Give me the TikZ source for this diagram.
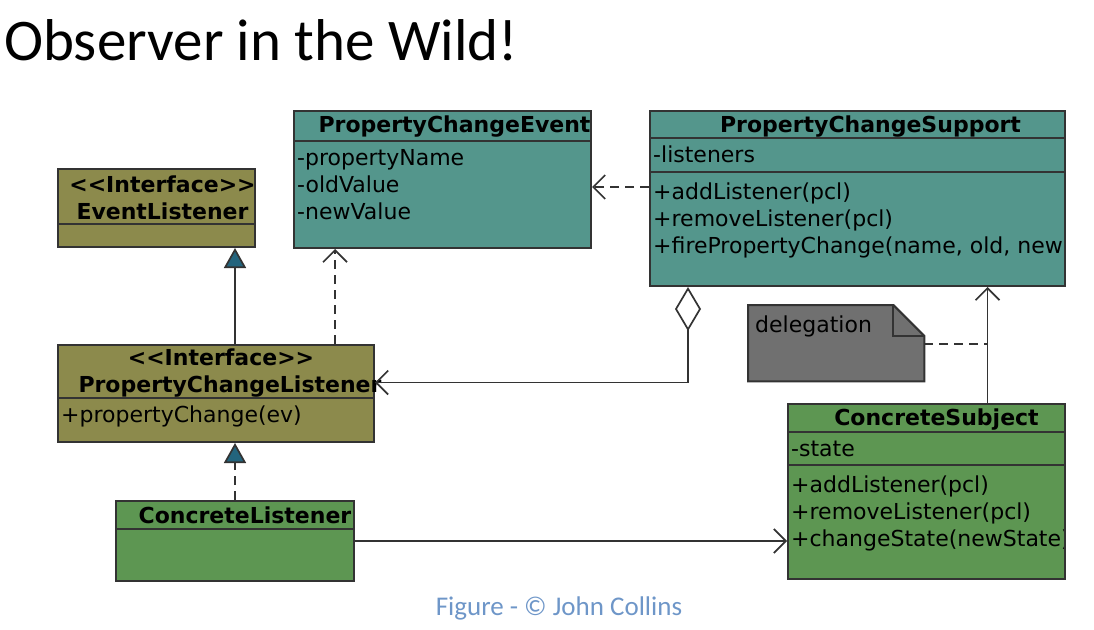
\documentclass[tikz,border=0pt]{standalone}
\usepackage{fontspec}
\setmainfont{DejaVu Sans}
\newfontfamily\slidefont{Carlito}
\usetikzlibrary{arrows.meta}
\usetikzlibrary{positioning}
\definecolor{umlolive}{RGB}{140,138,76}
\definecolor{umlteal}{RGB}{84,150,140}
\definecolor{umlgreen}{RGB}{93,150,82}
\definecolor{notegray}{RGB}{112,112,112}
\definecolor{tipblue}{RGB}{35,100,125}
\definecolor{capblue}{RGB}{110,150,200}
\tikzset{x=1pt, y=-1pt, node distance=1cm, font=\fontsize{22}{27}\selectfont}
\tikzstyle{cls} = [draw=black!80, line width=2pt, rectangle, anchor=north west, inner sep=0pt]
\tikzstyle{clsname} = [font=\bfseries\fontsize{22}{27}\selectfont, anchor=north, align=center, inner sep=0pt]
\tikzstyle{members} = [anchor=north west, align=left, inner xsep=4pt, inner ysep=8pt]
\tikzstyle{sep} = [black!80, line width=2pt]
\tikzstyle{assoc} = [draw=black!80, line width=1.7pt, -{Straight Barb[length=12pt,width=24pt]}]
\tikzstyle{dep} = [assoc, dash pattern=on 9pt off 6pt]
\tikzstyle{inh} = [draw=black!80, line width=1.7pt, -{Triangle[length=20pt,width=22pt,fill=tipblue]}]
\tikzstyle{agg} = [assoc, {Diamond[open,length=44pt,width=26pt]}-{Straight Barb[length=12pt,width=24pt]}]
\tikzstyle{note} = [draw=black!80, line width=2pt, fill=notegray]
\newcommand{\stereo}{<\kern0pt<Interface>\kern0pt>}

\begin{document}
\begin{tikzpicture}
    \useasboundingbox (0,0) rectangle (1094,629);
    \node [anchor=base west, inner sep=0pt, font=\slidefont\fontsize{59}{59}\selectfont] (heading) at (4,60) {Observer in the Wild!};

    % class boxes
    \node [cls, fill=umlolive, minimum width=197pt, minimum height=78pt] (el) at (57,168) {};
    \node [cls, fill=umlteal, minimum width=297pt, minimum height=137pt] (pce) at (293,110) {};
    \node [cls, fill=umlteal, minimum width=415pt, minimum height=175pt] (pcs) at (649,110) {};
    \node [cls, fill=umlolive, minimum width=316pt, minimum height=97pt] (pcl) at (57,344) {};
    \node [cls, fill=umlgreen, minimum width=238pt, minimum height=80pt] (cl) at (115,500) {};
    \node [cls, fill=umlgreen, minimum width=277pt, minimum height=175pt] (cs) at (787,403) {};

    % names
    \node [clsname] (elname) at ([xshift=6pt,yshift=-8pt]el.north) {\stereo\\EventListener};
    \node [clsname] (pcename) at ([xshift=12pt,yshift=-6pt]pce.north) {PropertyChangeEvent};
    \node [clsname] (pcsname) at ([xshift=13pt,yshift=-6pt]pcs.north) {PropertyChangeSupport};
    \node [clsname] (pclname) at ([xshift=14pt,yshift=-5pt]pcl.north) {\hspace*{-18pt}\stereo\\PropertyChangeListener};
    \node [clsname] (clname) at ([xshift=10pt,yshift=-7pt]cl.north) {ConcreteListener};
    \node [clsname] (csname) at ([xshift=10pt,yshift=-6pt]cs.north) {ConcreteSubject};

    % compartments
    \draw [sep] ([yshift=-56pt]el.north west) -- ([yshift=-56pt]el.north east);
    \draw [sep] ([yshift=-31pt]pce.north west) -- ([yshift=-31pt]pce.north east);
    \draw [sep] ([yshift=-28pt]pcs.north west) -- ([yshift=-28pt]pcs.north east);
    \draw [sep] ([yshift=-62pt]pcs.north west) -- ([yshift=-62pt]pcs.north east);
    \draw [sep] ([yshift=-54pt]pcl.north west) -- ([yshift=-54pt]pcl.north east);
    \draw [sep] ([yshift=-29pt]cl.north west) -- ([yshift=-29pt]cl.north east);
    \draw [sep] ([yshift=-29pt]cs.north west) -- ([yshift=-29pt]cs.north east);
    \draw [sep] ([yshift=-62pt]cs.north west) -- ([yshift=-62pt]cs.north east);

    \node [members] (pceattr) at ([yshift=-31pt]pce.north west) {-propertyName\\-oldValue\\-newValue};
    \node [members] (pcsattr) at ([yshift=-28pt]pcs.north west) {-listeners};
    \node [members] (pclops) at ([yshift=-54pt]pcl.north west) {+propertyChange(ev)};
    \node [members] (csattr) at ([yshift=-30pt]cs.north west) {-state};
    \begin{scope}
        \clip (pcs.north west) rectangle ([xshift=-1pt]pcs.south east);
        \node [members] (pcsops) at ([yshift=-65pt]pcs.north west) {+addListener(pcl)\\+removeListener(pcl)\\+firePropertyChange(name, old, new)};
    \end{scope}
    \begin{scope}
        \clip (cs.north west) rectangle ([xshift=-1pt]cs.south east);
        \node [members] (csops) at ([yshift=-65pt]cs.north west) {+addListener(pcl)\\+removeListener(pcl)\\+changeState(newState)};
    \end{scope}
    \draw [sep] ([xshift=-1pt]pcs.north east) -- ([xshift=-1pt]pcs.south east);
    \draw [sep] ([xshift=-1pt]cs.north east) -- ([xshift=-1pt]cs.south east);

    % note
    \node [anchor=north west, inner sep=0pt, minimum width=176pt, minimum height=76pt] (note) at (748,305) {};
    \draw [note] (note.north west) -- ([xshift=-31pt]note.north east) -- ([yshift=-31pt]note.north east)
        -- (note.south east) -- (note.south west) -- cycle;
    \draw [note, fill=none] ([xshift=-31pt]note.north east) |- ([yshift=-31pt]note.north east);
    \node [anchor=north west, inner sep=0pt] (notetext) at ([xshift=7pt,yshift=-11pt]note.north west) {delegation};

    % connectors
    \coordinate (pclup) at ([xshift=19pt]pcl.north);
    \coordinate (pcluse) at ([xshift=119pt]pcl.north);
    \coordinate (pcsuse) at ([yshift=-77pt]pcs.north west);
    \coordinate (pcsagg) at ([xshift=39pt]pcs.south west);
    \coordinate (pclin) at ([yshift=11pt]pcl.east);
    \coordinate (csup) at ([xshift=61pt]cs.north);
    \coordinate (notelink) at ([yshift=-39pt]note.north east);

    \draw [inh] (pclup) -- (pclup |- el.south);
    \draw [dep] (pcluse) -- (pcluse |- pce.south);
    \draw [dep] (pcsuse) -- (pcsuse -| pce.east);
    \draw [agg] (pcsagg) |- (pclin);
    \draw [inh, dash pattern=on 9pt off 6pt] (cl.north) -- (cl.north |- pcl.south);
    \draw [assoc] (cl.east) -- (cl.east -| cs.west);
    \draw [assoc] (csup) -- (csup |- pcs.south);
    \draw [draw=black!80, line width=1.7pt, dash pattern=on 9pt off 6pt] (notelink) -- (notelink -| csup);

    \node [anchor=base, inner sep=0pt, text=capblue, font=\slidefont\fontsize{27}{27}\selectfont] (caption) at (559,615) {Figure - © John Collins};
\end{tikzpicture}
\end{document}
